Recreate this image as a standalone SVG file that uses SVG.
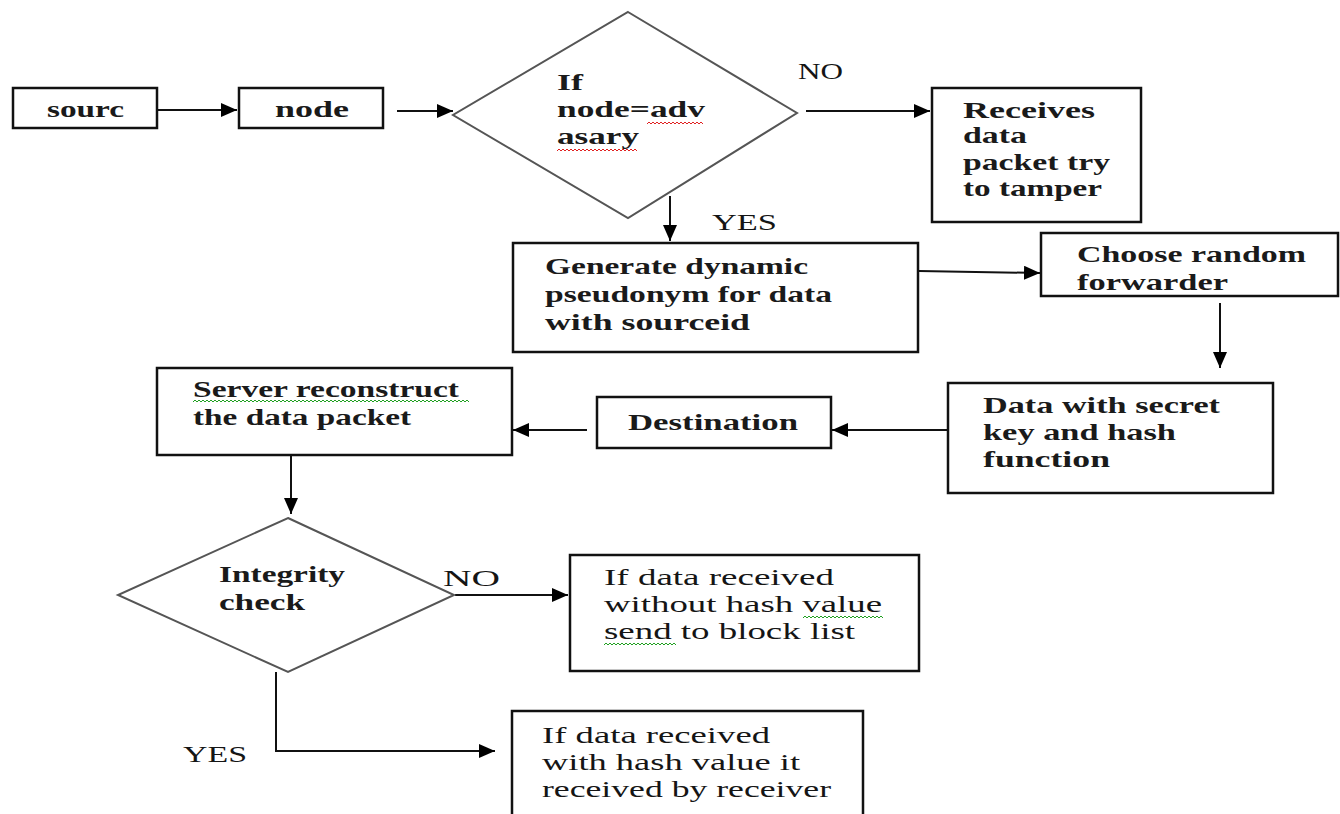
<svg xmlns="http://www.w3.org/2000/svg" width="1340" height="814" viewBox="0 0 1340 814">
<defs>
<style>
.box{fill:#fff;stroke:#111;stroke-width:2.5}
.dia{fill:#fff;stroke:#555;stroke-width:2}
.t{font-family:"Liberation Serif","DejaVu Serif",serif;font-size:23px;font-weight:bold;fill:#1a1a1a}
.tn{font-family:"Liberation Serif","DejaVu Serif",serif;font-size:24px;fill:#151515}
.tb{font-family:"Liberation Serif","DejaVu Serif",serif;font-size:24px;font-weight:bold;fill:#1a1a1a}
.c{fill:none;stroke:#111;stroke-width:2}
.sqr{fill:none;stroke:#e02020;stroke-width:1}
.sqg{fill:none;stroke:#20a020;stroke-width:1}
</style>
<marker id="ah" viewBox="0 0 16 14" refX="16" refY="7" markerWidth="16" markerHeight="14" markerUnits="userSpaceOnUse" orient="auto">
<path d="M0,0 L16,7 L0,14 z" fill="#000"/>
</marker>
</defs>
<rect width="1340" height="814" fill="#fff"/>

<g id="connectors">
<line class="c" x1="158" y1="110" x2="237" y2="110" marker-end="url(#ah)"/>
<line class="c" x1="397" y1="111" x2="453" y2="111" marker-end="url(#ah)"/>
<line class="c" x1="806" y1="111" x2="930" y2="111" marker-end="url(#ah)"/>
<line class="c" x1="670" y1="196" x2="670" y2="241" marker-end="url(#ah)"/>
<line class="c" x1="919" y1="271" x2="1040" y2="273" marker-end="url(#ah)"/>
<line class="c" x1="1220" y1="303" x2="1220" y2="368" marker-end="url(#ah)"/>
<line class="c" x1="947" y1="430" x2="832" y2="430" marker-end="url(#ah)"/>
<line class="c" x1="587" y1="430" x2="513" y2="430" marker-end="url(#ah)"/>
<line class="c" x1="291" y1="455" x2="291" y2="514" marker-end="url(#ah)"/>
<line class="c" x1="455" y1="595" x2="568" y2="595" marker-end="url(#ah)"/>
<polyline class="c" points="276,672 276,751 495,751" marker-end="url(#ah)"/>
</g>

<g id="n-source">
<rect class="box" x="13" y="88" width="144" height="40"/>
<text class="t" x="47" y="117" textLength="77" lengthAdjust="spacingAndGlyphs">sourc</text>
</g>

<g id="n-node">
<rect class="box" x="239" y="88" width="144" height="40"/>
<text class="t" x="275" y="117" textLength="74" lengthAdjust="spacingAndGlyphs">node</text>
</g>

<g id="n-decision1">
<polygon class="dia" points="628,12 797,113 628,218 453,115"/>
<text class="t" x="557" y="90" textLength="26" lengthAdjust="spacingAndGlyphs">If</text>
<text class="t" x="557" y="117" textLength="148" lengthAdjust="spacingAndGlyphs">node=adv</text>
<text class="t" x="557" y="144" textLength="82" lengthAdjust="spacingAndGlyphs">asary</text>
<path class="sqr" d="M647,124 l2,-2 l2,2 l2,-2 l2,2 l2,-2 l2,2 l2,-2 l2,2 l2,-2 l2,2 l2,-2 l2,2 l2,-2 l2,2 l2,-2 l2,2 l2,-2 l2,2 l2,-2 l2,2 l2,-2 l2,2 l2,-2 l2,2 l2,-2 l2,2 l2,-2 l2,2"/>
<path class="sqr" d="M557,151 l2,-2 l2,2 l2,-2 l2,2 l2,-2 l2,2 l2,-2 l2,2 l2,-2 l2,2 l2,-2 l2,2 l2,-2 l2,2 l2,-2 l2,2 l2,-2 l2,2 l2,-2 l2,2 l2,-2 l2,2 l2,-2 l2,2 l2,-2 l2,2 l2,-2 l2,2 l2,-2 l2,2 l2,-2 l2,2 l2,-2 l2,2 l2,-2 l2,2 l2,-2 l2,2 l2,-2 l2,2"/>
</g>

<g id="lbl-no1"><text class="tn" x="798" y="79" textLength="45" lengthAdjust="spacingAndGlyphs">NO</text></g>
<g id="lbl-yes1"><text class="tn" x="712" y="230" textLength="65" lengthAdjust="spacingAndGlyphs">YES</text></g>

<g id="n-receives">
<rect class="box" x="932" y="88" width="209" height="134"/>
<text class="t" x="963" y="118" textLength="132" lengthAdjust="spacingAndGlyphs">Receives</text>
<text class="t" x="963" y="143" textLength="64" lengthAdjust="spacingAndGlyphs">data</text>
<text class="t" x="963" y="170" textLength="147" lengthAdjust="spacingAndGlyphs">packet try</text>
<text class="t" x="963" y="196" textLength="139" lengthAdjust="spacingAndGlyphs">to tamper</text>
</g>

<g id="n-generate">
<rect class="box" x="513" y="243" width="405" height="109"/>
<text class="t" x="545" y="274" textLength="263" lengthAdjust="spacingAndGlyphs">Generate dynamic</text>
<text class="t" x="545" y="302" textLength="287" lengthAdjust="spacingAndGlyphs">pseudonym for data</text>
<text class="t" x="545" y="330" textLength="205" lengthAdjust="spacingAndGlyphs">with sourceid</text>
</g>

<g id="n-choose">
<rect class="box" x="1041" y="233" width="297" height="63"/>
<text class="t" x="1077" y="262" textLength="229" lengthAdjust="spacingAndGlyphs">Choose random</text>
<text class="t" x="1077" y="290" textLength="151" lengthAdjust="spacingAndGlyphs">forwarder</text>
</g>

<g id="n-datakey">
<rect class="box" x="948" y="383" width="325" height="110"/>
<text class="t" x="983" y="413" textLength="237" lengthAdjust="spacingAndGlyphs">Data with secret</text>
<text class="t" x="983" y="440" textLength="193" lengthAdjust="spacingAndGlyphs">key and hash</text>
<text class="t" x="983" y="467" textLength="127" lengthAdjust="spacingAndGlyphs">function</text>
</g>

<g id="n-destination">
<rect class="box" x="597" y="397" width="234" height="51"/>
<text class="t" x="628" y="430" textLength="170" lengthAdjust="spacingAndGlyphs">Destination</text>
</g>

<g id="n-server">
<rect class="box" x="157" y="368" width="355" height="87"/>
<text class="t" x="193" y="397" textLength="266" lengthAdjust="spacingAndGlyphs">Server reconstruct</text>
<text class="t" x="193" y="425" textLength="218" lengthAdjust="spacingAndGlyphs">the data packet</text>
<path class="sqg" d="M193,402 l2,-2 l2,2 l2,-2 l2,2 l2,-2 l2,2 l2,-2 l2,2 l2,-2 l2,2 l2,-2 l2,2 l2,-2 l2,2 l2,-2 l2,2 l2,-2 l2,2 l2,-2 l2,2 l2,-2 l2,2 l2,-2 l2,2 l2,-2 l2,2 l2,-2 l2,2 l2,-2 l2,2 l2,-2 l2,2 l2,-2 l2,2 l2,-2 l2,2 l2,-2 l2,2 l2,-2 l2,2 l2,-2 l2,2 l2,-2 l2,2 l2,-2 l2,2 l2,-2 l2,2 l2,-2 l2,2 l2,-2 l2,2 l2,-2 l2,2 l2,-2 l2,2 l2,-2 l2,2 l2,-2 l2,2 l2,-2 l2,2 l2,-2 l2,2 l2,-2 l2,2 l2,-2 l2,2 l2,-2 l2,2 l2,-2 l2,2 l2,-2 l2,2 l2,-2 l2,2 l2,-2 l2,2 l2,-2 l2,2 l2,-2 l2,2 l2,-2 l2,2 l2,-2 l2,2 l2,-2 l2,2 l2,-2 l2,2 l2,-2 l2,2 l2,-2 l2,2 l2,-2 l2,2 l2,-2 l2,2 l2,-2 l2,2 l2,-2 l2,2 l2,-2 l2,2 l2,-2 l2,2 l2,-2 l2,2 l2,-2 l2,2 l2,-2 l2,2 l2,-2 l2,2 l2,-2 l2,2 l2,-2 l2,2 l2,-2 l2,2 l2,-2 l2,2 l2,-2 l2,2 l2,-2 l2,2 l2,-2 l2,2 l2,-2 l2,2 l2,-2 l2,2 l2,-2 l2,2 l2,-2 l2,2 l2,-2 l2,2"/>
</g>

<g id="n-integrity">
<polygon class="dia" points="288,518 454,595 288,672 118,595"/>
<text class="tb" x="219" y="582" textLength="126" lengthAdjust="spacingAndGlyphs">Integrity</text>
<text class="tb" x="219" y="610" textLength="86" lengthAdjust="spacingAndGlyphs">check</text>
</g>

<g id="lbl-no2"><text class="tn" x="443" y="586" textLength="57" lengthAdjust="spacingAndGlyphs">NO</text></g>
<g id="lbl-yes2"><text class="tn" x="183" y="762" textLength="64" lengthAdjust="spacingAndGlyphs">YES</text></g>

<g id="n-blocklist">
<rect class="box" x="570" y="555" width="349" height="116"/>
<text class="tn" x="604" y="585" textLength="230" lengthAdjust="spacingAndGlyphs">If data received</text>
<text class="tn" x="604" y="612" textLength="278" lengthAdjust="spacingAndGlyphs">without hash value</text>
<text class="tn" x="604" y="639" textLength="251" lengthAdjust="spacingAndGlyphs">send to block list</text>
<path class="sqg" d="M803,618 l2,-2 l2,2 l2,-2 l2,2 l2,-2 l2,2 l2,-2 l2,2 l2,-2 l2,2 l2,-2 l2,2 l2,-2 l2,2 l2,-2 l2,2 l2,-2 l2,2 l2,-2 l2,2 l2,-2 l2,2 l2,-2 l2,2 l2,-2 l2,2 l2,-2 l2,2 l2,-2 l2,2 l2,-2 l2,2 l2,-2 l2,2 l2,-2 l2,2 l2,-2 l2,2 l2,-2 l2,2"/>
<path class="sqg" d="M604,645 l2,-2 l2,2 l2,-2 l2,2 l2,-2 l2,2 l2,-2 l2,2 l2,-2 l2,2 l2,-2 l2,2 l2,-2 l2,2 l2,-2 l2,2 l2,-2 l2,2 l2,-2 l2,2 l2,-2 l2,2 l2,-2 l2,2 l2,-2 l2,2 l2,-2 l2,2 l2,-2 l2,2 l2,-2 l2,2 l2,-2 l2,2 l2,-2 l2,2"/>
</g>

<g id="n-receiver">
<path class="box" d="M512,816 L512,711 L863,711 L863,816"/>
<text class="tn" x="542" y="743" textLength="228" lengthAdjust="spacingAndGlyphs">If data received</text>
<text class="tn" x="542" y="770" textLength="258" lengthAdjust="spacingAndGlyphs">with hash value it</text>
<text class="tn" x="542" y="797" textLength="289" lengthAdjust="spacingAndGlyphs">received by receiver</text>
</g>
</svg>
